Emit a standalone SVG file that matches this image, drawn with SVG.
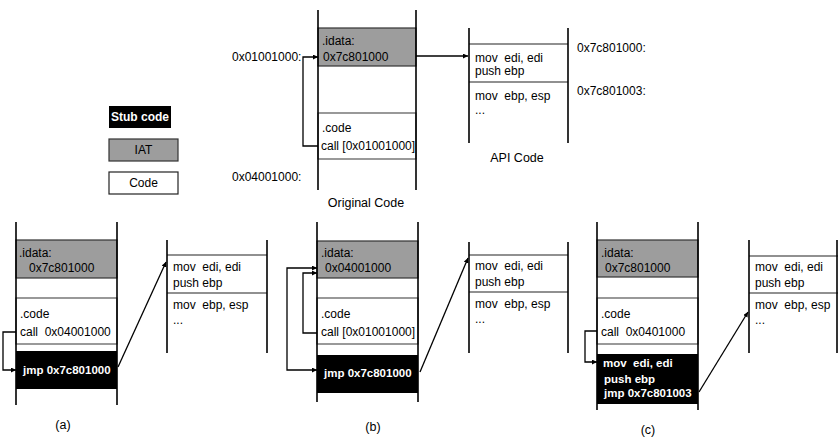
<svg xmlns="http://www.w3.org/2000/svg" width="838" height="442" viewBox="0 0 838 442" xml:space="preserve">
  <defs>
    <marker id="arrow" viewBox="0 0 10 10" refX="10" refY="5" markerWidth="5" markerHeight="5" orient="auto-start-reverse" markerUnits="userSpaceOnUse">
      <path d="M0,0 L10,5 L0,10 z" fill="#000"/>
    </marker>
    <style>
      .rail { stroke: #000; stroke-width: 1.6; fill: none; }
      .sep { stroke: #222; stroke-width: 1.2; }
      .iat { fill: #9d9d9d; stroke: #333; stroke-width: 1.2; }
      .code { fill: #fff; stroke: #555; stroke-width: 1.2; }
      .stub { fill: #000; }
      text { white-space: pre; }
      .t { font-family: "Liberation Sans", Arial, sans-serif; font-size: 12px; fill: #000; dominant-baseline: central; }
      .tb { font-family: "Liberation Sans", Arial, sans-serif; font-size: 11.5px; font-weight: bold; fill: #fff; dominant-baseline: central; }
      .cap { font-family: "Liberation Sans", Arial, sans-serif; font-size: 12.5px; fill: #000; dominant-baseline: central; text-anchor: middle; }
      .wire { stroke: #000; stroke-width: 1.3; fill: none; }
    </style>
  </defs>

  <!-- legend -->
  <g id="legend">
    <rect x="109" y="106" width="62" height="22" class="stub"/>
    <text x="140" y="117" class="tb" text-anchor="middle" style="font-size:12px">Stub code</text>
    <rect x="109" y="139" width="69" height="22" class="iat"/>
    <text x="143.5" y="150" class="t" text-anchor="middle">IAT</text>
    <rect x="109" y="172" width="69" height="22" class="code" style="stroke:#222"/>
    <text x="143.5" y="183" class="t" text-anchor="middle">Code</text>
  </g>

  <!-- original code -->
  <g id="orig-stack">
    <rect x="318" y="28" width="98" height="38" class="iat"/>
    <rect x="318" y="113" width="98" height="46" class="code"/>
    <line x1="318" y1="10" x2="318" y2="190" class="rail"/>
    <line x1="416" y1="10" x2="416" y2="190" class="rail"/>
    <text x="322" y="41" class="t">.idata:</text>
    <text x="323" y="57" class="t">0x7c801000</text>
    <text x="322" y="128" class="t">.code</text>
    <text x="321" y="146" class="t">call [0x01001000]</text>
    <text x="232" y="57" class="t">0x01001000:</text>
    <text x="232" y="177" class="t">0x04001000:</text>
    <text x="366" y="203" class="cap">Original Code</text>
  </g>

  <!-- API code -->
  <g id="api-top">
    <line x1="469" y1="44" x2="568" y2="44" class="sep"/>
    <line x1="469" y1="82" x2="568" y2="82" class="sep"/>
    <line x1="469" y1="28" x2="469" y2="143" class="rail"/>
    <line x1="568" y1="28" x2="568" y2="143" class="rail"/>
    <text x="475" y="58" class="t">mov  edi, edi</text>
    <text x="475" y="71" class="t">push ebp</text>
    <text x="475" y="96" class="t">mov  ebp, esp</text>
    <text x="475" y="110" class="t">...</text>
    <text x="577" y="48" class="t">0x7c801000:</text>
    <text x="577" y="91" class="t">0x7c801003:</text>
    <text x="517" y="158" class="cap">API Code</text>
  </g>

  <!-- (a) -->
  <g id="stack-a">
    <rect x="16" y="240" width="101" height="38" class="iat"/>
    <rect x="16" y="298" width="101" height="46" class="code"/>
    <rect x="16" y="351" width="101" height="38" class="stub"/>
    <line x1="16" y1="222" x2="16" y2="405" class="rail"/>
    <line x1="117" y1="222" x2="117" y2="405" class="rail"/>
    <text x="19" y="253" class="t">.idata:</text>
    <text x="29" y="268" class="t">0x7c801000</text>
    <text x="20" y="314" class="t">.code</text>
    <text x="20" y="332" class="t">call  0x04001000</text>
    <text x="23" y="370" class="tb">jmp 0x7c801000</text>
    <text x="63" y="425" class="cap">(a)</text>
  </g>
  <g id="api-a">
    <line x1="167" y1="255" x2="267" y2="255" class="sep"/>
    <line x1="167" y1="293" x2="267" y2="293" class="sep"/>
    <line x1="167" y1="240" x2="167" y2="353" class="rail"/>
    <line x1="267" y1="240" x2="267" y2="353" class="rail"/>
    <text x="173" y="267" class="t">mov  edi, edi</text>
    <text x="173" y="283" class="t">push ebp</text>
    <text x="173" y="305" class="t">mov  ebp, esp</text>
    <text x="173" y="320" class="t">...</text>
  </g>

  <!-- (b) -->
  <g id="stack-b">
    <rect x="317" y="241" width="101" height="37" class="iat"/>
    <rect x="317" y="298" width="101" height="46" class="code"/>
    <rect x="317" y="355" width="101" height="38" class="stub"/>
    <line x1="317" y1="222" x2="317" y2="402" class="rail"/>
    <line x1="418" y1="222" x2="418" y2="402" class="rail"/>
    <text x="321" y="253" class="t">.idata:</text>
    <text x="325" y="268" class="t">0x04001000</text>
    <text x="321" y="314" class="t">.code</text>
    <text x="321" y="332" class="t">call [0x01001000]</text>
    <text x="324" y="373" class="tb">jmp 0x7c801000</text>
    <text x="373" y="427" class="cap">(b)</text>
  </g>
  <g id="api-b">
    <line x1="469" y1="255" x2="568" y2="255" class="sep"/>
    <line x1="469" y1="292" x2="568" y2="292" class="sep"/>
    <line x1="469" y1="242" x2="469" y2="353" class="rail"/>
    <line x1="568" y1="242" x2="568" y2="353" class="rail"/>
    <text x="475" y="266" class="t">mov  edi, edi</text>
    <text x="475" y="282" class="t">push ebp</text>
    <text x="475" y="304" class="t">mov  ebp, esp</text>
    <text x="475" y="319" class="t">...</text>
  </g>

  <!-- (c) -->
  <g id="stack-c">
    <rect x="597" y="240" width="101" height="37" class="iat"/>
    <rect x="597" y="298" width="101" height="46" class="code"/>
    <rect x="597" y="354" width="101" height="50" class="stub"/>
    <line x1="597" y1="222" x2="597" y2="410" class="rail"/>
    <line x1="698" y1="222" x2="698" y2="410" class="rail"/>
    <text x="601" y="253" class="t">.idata:</text>
    <text x="605" y="268" class="t">0x7c801000</text>
    <text x="601" y="314" class="t">.code</text>
    <text x="601" y="332" class="t">call  0x0401000</text>
    <text x="603" y="363" class="tb">mov  edi, edi</text>
    <text x="604" y="379" class="tb">push ebp</text>
    <text x="604" y="393" class="tb">jmp 0x7c801003</text>
    <text x="648" y="430" class="cap">(c)</text>
  </g>
  <g id="api-c">
    <line x1="749" y1="256" x2="838" y2="256" class="sep"/>
    <line x1="749" y1="293" x2="838" y2="293" class="sep"/>
    <line x1="749" y1="240" x2="749" y2="353" class="rail"/>
    <line x1="837" y1="240" x2="837" y2="353" class="rail"/>
    <text x="755" y="267" class="t">mov  edi, edi</text>
    <text x="755" y="283" class="t">push ebp</text>
    <text x="755" y="305" class="t">mov  ebp, esp</text>
    <text x="755" y="320" class="t">...</text>
  </g>

  <!-- connectors -->
  <g id="connectors">
    <polyline points="318,146 303,146 303,57 318,57" class="wire" marker-end="url(#arrow)"/>
    <line x1="416" y1="56" x2="468" y2="56" class="wire" marker-end="url(#arrow)"/>

    <polyline points="16,332 3,332 3,370 16,370" class="wire" marker-end="url(#arrow)"/>
    <line x1="118" y1="367" x2="166" y2="262" class="wire" marker-end="url(#arrow)"/>

    <polyline points="317,333 303,333 303,273 317,273" class="wire" marker-end="url(#arrow)"/>
    <polyline points="317,268 287,268 287,370 317,370" class="wire" marker-start="url(#arrow)" marker-end="url(#arrow)"/>
    <line x1="420" y1="372" x2="468" y2="258" class="wire" marker-end="url(#arrow)"/>

    <polyline points="597,331 585,331 585,362 597,362" class="wire" marker-end="url(#arrow)"/>
    <line x1="699" y1="392" x2="748" y2="312" class="wire" marker-end="url(#arrow)"/>
  </g>
</svg>
